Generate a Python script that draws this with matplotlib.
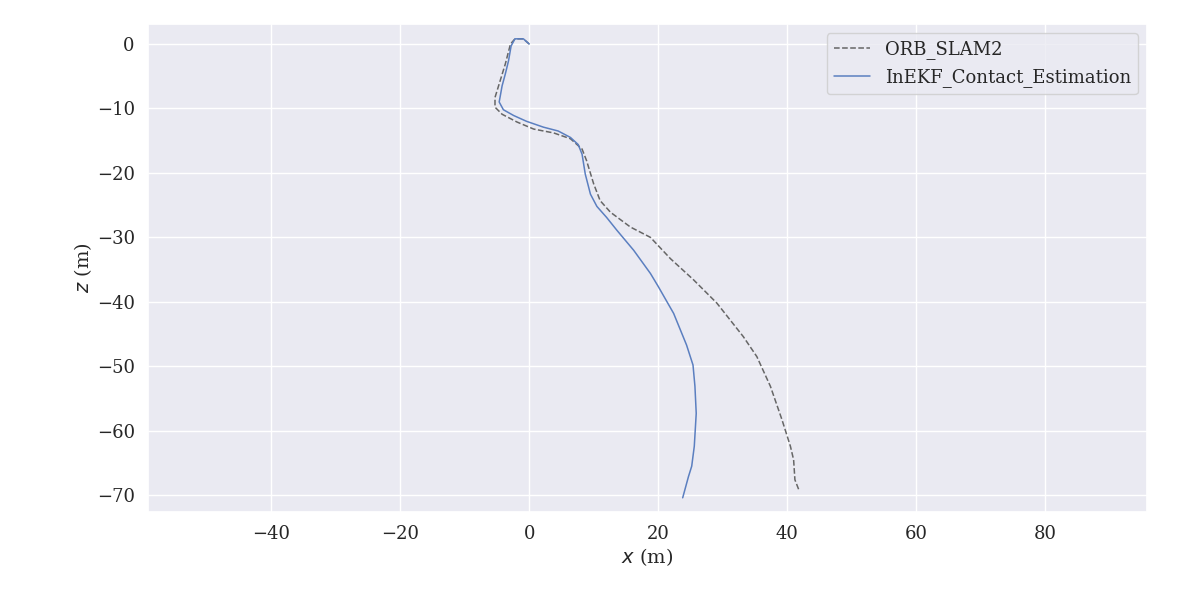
import numpy as np
import seaborn as sns
import matplotlib
matplotlib.use('Agg')
import matplotlib.pyplot as plt

# trajectories (x, z in metres)
orb_x = [0.0, -0.9, -2.2, -2.9, -3.7, -4.5, -5.3, -5.3, -4.2, -1.9, 0.7, 3.8, 6.4,
         8.2, 8.9, 10.0, 11.0, 12.6, 15.7, 18.8, 21.9, 25.5, 29.1, 33.2, 35.3,
         37.4, 39.2, 40.5, 41.0, 41.2, 41.9]
orb_z = [0.0, 0.8, 0.8, 0.0, -3.1, -5.7, -8.3, -9.8, -10.9, -12.1, -13.2, -13.8,
         -14.7, -16.3, -18.1, -21.7, -24.3, -26.1, -28.4, -30.0, -33.3, -36.6,
         -40.2, -45.4, -48.5, -53.1, -58.3, -62.4, -64.5, -67.6, -69.4]

inekf_x = [0.0, -0.9, -2.2, -2.8, -3.2, -3.7, -4.2, -4.65, -4.0, -2.4, -0.4, 2.2,
           4.5, 6.4, 7.6, 8.2, 8.7, 9.5, 10.5, 12.0, 13.6, 16.2, 18.8, 20.0, 22.4,
           24.4, 25.4, 25.7, 25.9, 25.6, 25.2, 24.7, 23.8]
inekf_z = [0.0, 0.8, 0.8, -0.3, -2.6, -4.65, -6.5, -9.0, -10.2, -11.1, -12.0,
           -12.9, -13.5, -14.5, -15.6, -17.1, -20.2, -23.3, -25.2, -26.9, -28.9,
           -32.0, -35.6, -37.6, -41.8, -46.7, -49.8, -53.1, -57.3, -62.4, -65.5,
           -67.1, -70.4]

sns.set_theme(style='darkgrid')
plt.rcParams['font.family'] = ['DejaVu Serif']

fig = plt.figure(figsize=(11.84, 6), dpi=100)
ax = fig.add_axes([0.125, 0.1467, 0.8438, 0.8133])

ax.plot(orb_x, orb_z, ls='--', c='#666666', lw=1.1, label='ORB_SLAM2')
ax.plot(inekf_x, inekf_z, ls='-', c='#5b7fc0', lw=1.1, label='InEKF_Contact_Estimation')

ax.set_xlim(-59.1, 95.8)
ax.set_ylim(-72.6, 3.1)
ax.set_xticks(np.arange(-40, 81, 20))
ax.set_yticks(np.arange(-70, 1, 10))
ax.tick_params(labelsize=13)
ax.set_xlabel('$x$ (m)', fontsize=14, labelpad=2)
ax.set_ylabel('$z$ (m)', fontsize=14, labelpad=2)
ax.legend(loc='upper right', fontsize=13)

fig.savefig('out.png', dpi=100)
